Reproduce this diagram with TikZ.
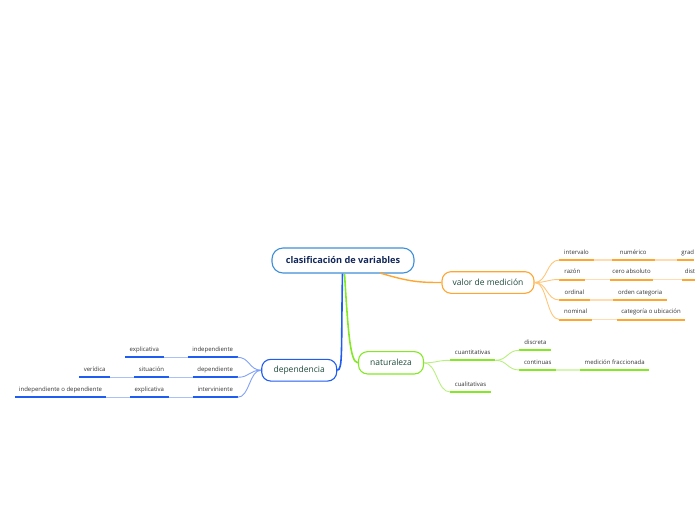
\documentclass[tikz,border=0pt]{standalone}
\usepackage{fontspec}
\setmainfont{Open Sans}
\usepackage{xcolor}
\usepackage{tikz}

\definecolor{azulcentral}{HTML}{3F8FD8}
\definecolor{textoazul}{HTML}{12285A}
\definecolor{textoverde}{HTML}{1D4A3A}
\definecolor{textogris}{HTML}{333333}
\definecolor{naranja}{HTML}{FFA630}
\definecolor{naranjaclaro}{HTML}{FFDDB0}
\definecolor{naranjarama}{HTML}{FFC677}
\definecolor{verde}{HTML}{84E824}
\definecolor{verdeclaro}{HTML}{D6F7B4}
\definecolor{verderama}{HTML}{B8F080}
\definecolor{azul}{HTML}{1F5CF2}
\definecolor{azulclaro}{HTML}{A9C0F8}
\definecolor{azulrama}{HTML}{7FA0F5}

\begin{document}
\begin{tikzpicture}[x=1pt, y=-1pt,
    tema/.style={draw=#1, rounded corners=9pt, line width=1.1pt, fill=white,
        font=\fontsize{8.5}{10}\selectfont, text=textoverde, inner xsep=0pt},
    hoja/.style={anchor=south west, inner xsep=0pt, inner ysep=4pt,
        text height=4.5pt, text depth=1.5pt, font=\fontsize{6}{7}\selectfont, text=textogris},
    rayado/.style={draw=#1, line width=2pt},
    enlace/.style={draw=#1, line width=1.5pt},
    rama/.style={draw=#1, line width=0.9pt}
]
    \useasboundingbox (0,0) rectangle (696,520);

    % Tema central
    \node[draw=azulcentral, rounded corners=11pt, line width=1.1pt, fill=white,
        minimum width=142pt, minimum height=25pt, text=textoazul,
        font=\fontsize{9.2}{11}\selectfont\bfseries] (central) at (343,260.5) {clasificación de variables};

    % Temas principales
    \node[tema=naranja, minimum width=92pt, minimum height=21.6pt] (valor) at (488,282.5) {valor de medición};
    \node[tema=verde, minimum width=65pt, minimum height=22.3pt] (naturaleza) at (391,362.8) {naturaleza};
    \node[tema=azul, minimum width=75pt, minimum height=21.7pt] (dependencia) at (299.2,370.2) {dependencia};

    % Conectores principales
    \draw[azul, line width=1.6pt] (central.south) ++(-0.5,0) coordinate (c1)
        .. controls (341,350) and (343,370.2) .. (dependencia.east);
    \draw[verde, line width=1.6pt] (central.south) ++(1.5,0) coordinate (c2)
        .. controls (348,330) and (350,362.8) .. (naturaleza.west);
    \coordinate (c3) at (380,273);
    \draw[naranja, line width=1.4pt] (c3) .. controls (410,282) and (420,282.5) .. (valor.west);

    % Valor de medicion
    \node[hoja, minimum width=34pt] (intervalo) at (559.3,260) {intervalo};
    \node[hoja, minimum width=42.6pt] (numerico) at (611.7,260) {numérico};
    \node[hoja] (grad) at (676.7,260) {\hspace{4.5pt}grad\hspace{4pt}};
    \node[hoja, minimum width=25.7pt] (razon) at (559.3,279.5) {razón};
    \node[hoja, minimum width=42.7pt] (cero) at (610,279.5) {cero absoluto};
    \node[hoja] (dist) at (681.7,279.5) {\hspace{3pt}dist\hspace{4pt}};
    \node[hoja, minimum width=30pt] (ordinal) at (559.3,300) {ordinal};
    \node[hoja, minimum width=53.4pt] (orden) at (613.3,300) {orden categoria};
    \node[hoja, minimum width=32.4pt] (nominal) at (559.3,319.5) {nominal};
    \node[hoja, minimum width=68.3pt] (categoria) at (616.7,319.5) {categoría o ubicación};

    \foreach \n in {intervalo,numerico,grad,razon,cero,dist,ordinal,orden,nominal,categoria}
        \draw[rayado=naranja] (\n.south west) -- (\n.south east);
    \draw[enlace=naranjaclaro] (intervalo.south east) -- (numerico.south west);
    \draw[enlace=naranjaclaro] (numerico.south east) -- (grad.south west);
    \draw[enlace=naranjaclaro] (razon.south east) -- (cero.south west);
    \draw[enlace=naranjaclaro] (cero.south east) -- (dist.south west);
    \draw[enlace=naranjaclaro] (ordinal.south east) -- (orden.south west);
    \draw[enlace=naranjaclaro] (nominal.south east) -- (categoria.south west);
    \foreach \n in {intervalo,razon,ordinal,nominal}
        \draw[rama=naranjarama] (valor.east) .. controls +(13,0) and +(-13,0) .. (\n.south west);

    % Naturaleza
    \node[hoja, minimum width=45pt] (cuantitativas) at (450,360.3) {cuantitativas};
    \node[hoja, minimum width=40.7pt] (cualitativas) at (450,392) {cualitativas};
    \node[hoja, minimum width=31.7pt] (discreta) at (519.3,350.3) {discreta};
    \node[hoja, minimum width=36.4pt] (continuas) at (519.3,370) {continuas};
    \node[hoja, minimum width=69pt] (medicion) at (580,370) {medición fraccionada};

    \foreach \n in {cuantitativas,cualitativas,discreta,continuas,medicion}
        \draw[rayado=verde] (\n.south west) -- (\n.south east);
    \draw[enlace=verdeclaro] (continuas.south east) -- (medicion.south west);
    \foreach \n in {cuantitativas,cualitativas}
        \draw[rama=verderama] (naturaleza.east) .. controls +(13,0) and +(-13,0) .. (\n.south west);
    \foreach \n in {discreta,continuas}
        \draw[rama=verderama] (cuantitativas.south east) .. controls +(12,0) and +(-12,0) .. (\n.south west);

    % Dependencia
    \node[hoja, minimum width=49.6pt] (independiente) at (187.7,357.3) {independiente};
    \node[hoja, minimum width=38.3pt] (explicativaA) at (125,357.3) {explicativa};
    \node[hoja, minimum width=44.6pt] (dependiente) at (192.7,377.3) {dependiente};
    \node[hoja, minimum width=34pt] (situacion) at (134.3,377.3) {situación};
    \node[hoja, minimum width=31pt] (veridica) at (79,377.3) {verídica};
    \node[hoja, minimum width=44.6pt] (interviniente) at (192.7,397.3) {interviniente};
    \node[hoja, minimum width=38.3pt] (explicativaB) at (130,397.3) {explicativa};
    \node[hoja, minimum width=90.7pt] (indodep) at (15,397.3) {independiente o dependiente};

    \foreach \n in {independiente,explicativaA,dependiente,situacion,veridica,interviniente,explicativaB,indodep}
        \draw[rayado=azul] (\n.south west) -- (\n.south east);
    \draw[enlace=azulclaro] (explicativaA.south east) -- (independiente.south west);
    \draw[enlace=azulclaro] (veridica.south east) -- (situacion.south west);
    \draw[enlace=azulclaro] (situacion.south east) -- (dependiente.south west);
    \draw[enlace=azulclaro] (indodep.south east) -- (explicativaB.south west);
    \draw[enlace=azulclaro] (explicativaB.south east) -- (interviniente.south west);
    \foreach \n in {independiente,dependiente,interviniente}
        \draw[rama=azulrama] (dependencia.west) .. controls +(-12,0) and +(12,0) .. (\n.south east);
\end{tikzpicture}
\end{document}
